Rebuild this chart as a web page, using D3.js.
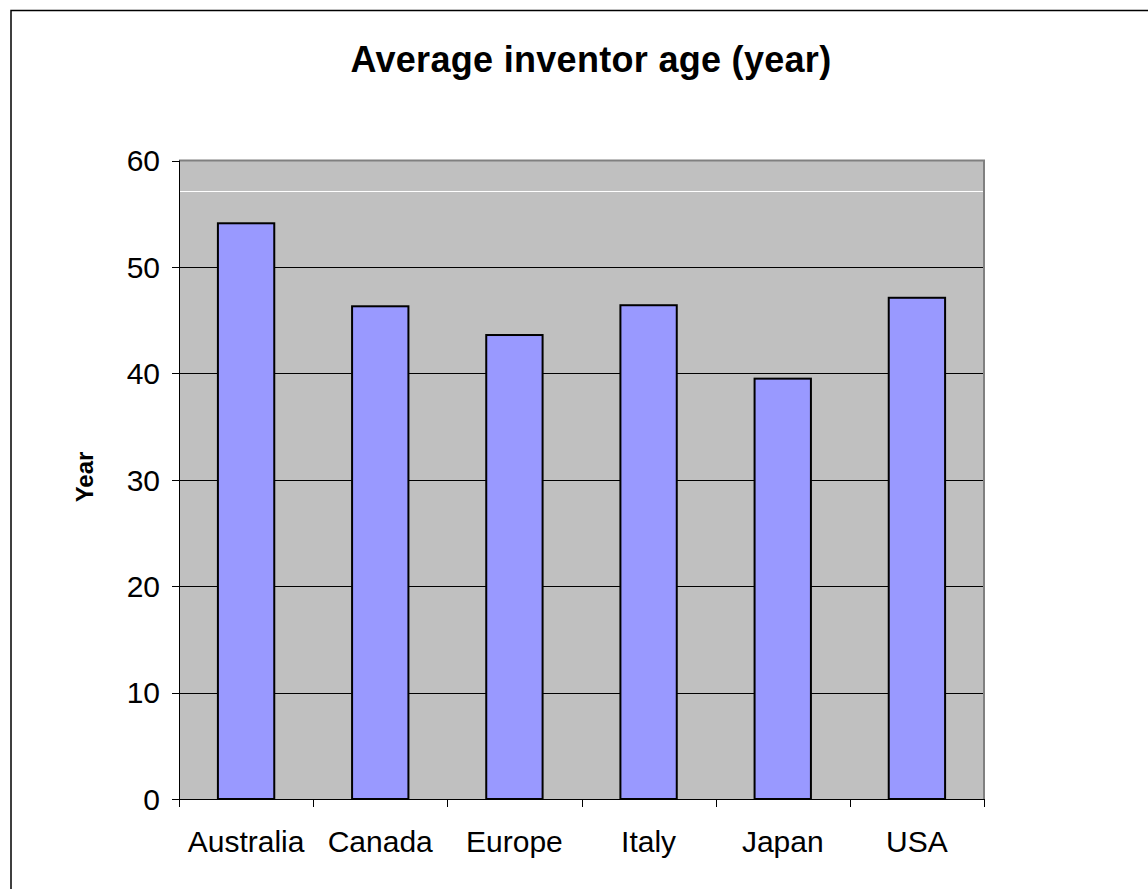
<!DOCTYPE html>
<html>
<head>
<meta charset="utf-8">
<script src="https://cdn.jsdelivr.net/npm/d3@7"></script>
<style>
  html, body { margin: 0; padding: 0; background: #fff; }
  svg { display: block; }
  text { font-family: "Liberation Sans", Arial, sans-serif; }
</style>
</head>
<body>
<svg id="chart" width="1148" height="889"></svg>
<script>
const categories = ["Australia", "Canada", "Europe", "Italy", "Japan", "USA"];
const values = [54.1, 46.3, 43.6, 46.4, 39.5, 47.1];
const yTicks = [0, 10, 20, 30, 40, 50, 60];
const whiteLineValue = 57.1;
const title = "Average inventor age (year)";
const yLabel = "Year";

const svg = d3.select("#chart");
const plot = { left: 179, right: 984, top: 160.5, bottom: 799 };

// outer chart border
svg.append("rect")
  .attr("x", 11).attr("y", 10.5)
  .attr("width", 1200).attr("height", 1000)
  .attr("fill", "#fff").attr("stroke", "#000").attr("stroke-width", 1.5);

const x = d3.scaleBand().domain(categories).range([plot.left, plot.right]).paddingInner(0.58).paddingOuter(0.29);
const y = d3.scaleLinear().domain([0, 60]).range([plot.bottom, plot.top]);

// plot background
svg.append("rect")
  .attr("x", plot.left).attr("y", plot.top)
  .attr("width", plot.right - plot.left).attr("height", plot.bottom - plot.top)
  .attr("fill", "#C0C0C0");

// gridlines
svg.append("g").selectAll("line")
  .data(yTicks.filter(d => d > 0 && d < 60))
  .join("line")
  .attr("x1", plot.left).attr("x2", plot.right)
  .attr("y1", d => Math.round(y(d)) + 0.5).attr("y2", d => Math.round(y(d)) + 0.5)
  .attr("stroke", "#000").attr("stroke-width", 1);

// white line
svg.append("line")
  .attr("x1", plot.left + 1).attr("x2", plot.right - 1)
  .attr("y1", Math.round(y(whiteLineValue)) + 0.5).attr("y2", Math.round(y(whiteLineValue)) + 0.5)
  .attr("stroke", "#fff").attr("stroke-width", 1);

// plot border top/right (gray)
svg.append("path")
  .attr("d", `M${plot.left},${plot.top} H${plot.right} V${plot.bottom}`)
  .attr("fill", "none").attr("stroke", "#808080").attr("stroke-width", 2);

// bars
svg.append("g").selectAll("rect")
  .data(categories.map((c, i) => ({ c, v: values[i] })))
  .join("rect")
  .attr("x", d => x(d.c))
  .attr("y", d => y(d.v))
  .attr("width", x.bandwidth())
  .attr("height", d => y(0) - y(d.v))
  .attr("fill", "#9999FF")
  .attr("stroke", "#000")
  .attr("stroke-width", 2);

// y axis
const yAxis = svg.append("g");
yAxis.append("line")
  .attr("x1", plot.left + 0.5).attr("x2", plot.left + 0.5)
  .attr("y1", plot.top).attr("y2", plot.bottom)
  .attr("stroke", "#000").attr("stroke-width", 1);
yAxis.selectAll("line.tick").data(yTicks).join("line")
  .attr("class", "tick")
  .attr("x1", plot.left - 7).attr("x2", plot.left)
  .attr("y1", d => Math.round(y(d)) + 0.5).attr("y2", d => Math.round(y(d)) + 0.5)
  .attr("stroke", "#000").attr("stroke-width", 1);
yAxis.selectAll("text").data(yTicks).join("text")
  .attr("x", 160).attr("y", d => y(d))
  .attr("dy", "0.36em")
  .attr("text-anchor", "end")
  .attr("font-size", 30)
  .text(d => d);

// x axis
const xAxis = svg.append("g");
xAxis.append("line")
  .attr("x1", plot.left).attr("x2", plot.right)
  .attr("y1", plot.bottom + 0.5).attr("y2", plot.bottom + 0.5)
  .attr("stroke", "#000").attr("stroke-width", 1);
const bounds = categories.map((c, i) => plot.left + i * (plot.right - plot.left) / categories.length).concat([plot.right]);
xAxis.selectAll("line.tick").data(bounds).join("line")
  .attr("class", "tick")
  .attr("x1", d => Math.round(d) + 0.5).attr("x2", d => Math.round(d) + 0.5)
  .attr("y1", plot.bottom).attr("y2", plot.bottom + 8)
  .attr("stroke", "#000").attr("stroke-width", 1);
xAxis.selectAll("text").data(categories).join("text")
  .attr("x", d => x(d) + x.bandwidth() / 2)
  .attr("y", 852)
  .attr("text-anchor", "middle")
  .attr("font-size", 30)
  .text(d => d);

// y label
svg.append("text")
  .attr("transform", "translate(93,477) rotate(-90)")
  .attr("text-anchor", "middle")
  .attr("font-size", 24)
  .attr("font-weight", "bold")
  .text(yLabel);

// title
svg.append("text")
  .attr("x", 591).attr("y", 72)
  .attr("text-anchor", "middle")
  .attr("font-size", 36)
  .attr("font-weight", "bold")
  .attr("letter-spacing", 0.3)
  .text(title);
</script>
</body>
</html>
